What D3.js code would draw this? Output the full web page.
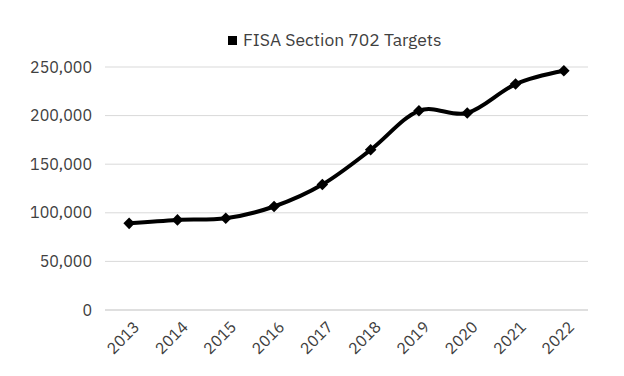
<!DOCTYPE html>
<html>
<head>
<meta charset="utf-8">
<script src="https://cdn.jsdelivr.net/npm/d3@7"></script>
<style>
  body { margin: 0; background: #fff; }
  #chart { width: 624px; height: 376px; }
</style>
</head>
<body>
<div id="chart"></div>
<script>
// data
const years = ['2013', '2014', '2015', '2016', '2017', '2018', '2019', '2020', '2021', '2022'];
const targets = [89138, 92707, 94368, 106469, 129080, 164770, 204968, 202723, 232432, 246073];
const yTicks = [0, 50000, 100000, 150000, 200000, 250000];
const seriesName = 'FISA Section 702 Targets';

drawChart();

function drawChart() {
    const width = 624;
    const height = 376;
    const margin = { top: 67, right: 36, bottom: 66, left: 105 };
    const innerWidth = width - margin.left - margin.right;
    const innerHeight = height - margin.top - margin.bottom;
    const font = '"IBM Plex Sans", "Noto Sans", "Open Sans", sans-serif';

    const svg = d3.select('#chart')
        .append('svg')
        .attr('width', width)
        .attr('height', height);

    const g = svg.append('g').attr('transform', `translate(${margin.left}, ${margin.top})`);

    const x = d3.scalePoint().domain(years).range([0, innerWidth]).padding(0.5);
    const y = d3.scaleLinear().domain([0, 250000]).range([innerHeight, 0]);

    // gridlines
    g.selectAll('line.grid')
        .data(yTicks)
        .join('line')
        .attr('class', 'grid')
        .attr('x1', 0)
        .attr('x2', innerWidth)
        .attr('y1', d => y(d))
        .attr('y2', d => y(d))
        .attr('stroke', d => d === 0 ? '#bfbfbf' : '#d9d9d9')
        .attr('stroke-width', 1);

    // y axis labels
    const yAxis = g.append('g')
        .call(d3.axisLeft(y).tickValues(yTicks).tickFormat(d3.format(',')).tickSize(0).tickPadding(13));
    yAxis.select('.domain').remove();
    yAxis.selectAll('text')
        .attr('fill', '#404040')
        .style('font-family', font)
        .style('font-size', '16px');

    // x axis labels
    const xAxis = g.append('g')
        .attr('transform', `translate(0, ${innerHeight})`)
        .call(d3.axisBottom(x).tickSize(0).tickPadding(0));
    xAxis.select('.domain').remove();
    xAxis.selectAll('text')
        .attr('fill', '#404040')
        .style('font-family', font)
        .style('font-size', '16px')
        .attr('text-anchor', 'end')
        .attr('dy', 0)
        .attr('transform', 'translate(11, 18) rotate(-45)');

    // line
    const line = d3.line()
        .x((d, i) => x(years[i]))
        .y(d => y(d))
        .curve(d3.curveCardinal.tension(0));

    g.append('path')
        .datum(targets)
        .attr('d', line)
        .attr('fill', 'none')
        .attr('stroke', '#000')
        .attr('stroke-width', 4)
        .attr('stroke-linejoin', 'round');

    // diamond markers
    const diamond = d3.symbol().type(d3.symbolDiamond2).size(85);
    g.selectAll('path.marker')
        .data(targets)
        .join('path')
        .attr('class', 'marker')
        .attr('d', diamond)
        .attr('transform', (d, i) => `translate(${x(years[i])}, ${y(d)})`)
        .attr('fill', '#000');

    // legend
    const legend = svg.append('g').attr('transform', 'translate(228, 36)');
    legend.append('rect')
        .attr('width', 9)
        .attr('height', 9)
        .attr('fill', '#000');
    legend.append('text')
        .attr('x', 15)
        .attr('y', 10)
        .attr('fill', '#404040')
        .style('font-family', font)
        .style('font-size', '17.5px')
        .text(seriesName);
}
</script>
</body>
</html>
